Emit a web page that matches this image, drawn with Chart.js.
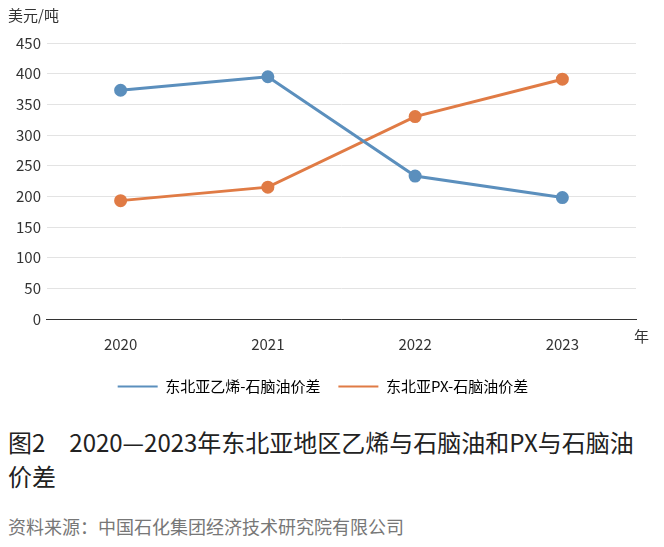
<!DOCTYPE html>
<html><head><meta charset="utf-8">
<script src="https://cdn.jsdelivr.net/npm/chart.js@4"></script>
<style>
body{margin:0;background:#fff;font-family:"Noto Sans CJK SC","Noto Sans",sans-serif;}
#wrap{position:relative;width:664px;height:404px;}
#t{position:absolute;left:8px;top:425px;font-size:24px;line-height:34px;color:#222;width:640px;}
#s{position:absolute;left:8px;top:513px;font-size:18px;color:#777;}
</style></head><body>
<div id="wrap"><canvas id="c"></canvas></div>
<div id="t">图2　2020—2023年东北亚地区乙烯与石脑油和PX与石脑油价差</div>
<div id="s">资料来源：中国石化集团经济技术研究院有限公司</div>
<script>
const years=["2020","2021","2022","2023"];
const ethylene=[373,395,233,198];
const px=[193,215,330,391];
const labels=["东北亚乙烯-石脑油价差","东北亚PX-石脑油价差"];
const font={family:"Noto Sans CJK SC",size:15};
const extra={id:'extra',afterDraw(ch){const c=ch.ctx;c.save();c.font='15px "Noto Sans CJK SC"';c.fillStyle='#333';
c.textBaseline='middle';c.textAlign='left';c.fillText('美元/吨',8,15);
c.fillText('年',634,ch.scales.x.top+17);c.restore();}};
new Chart(document.getElementById('c'),{type:'line',
data:{labels:years,datasets:[
{label:labels[0],data:ethylene,borderColor:'#5b8fbd',backgroundColor:'#5b8fbd',borderWidth:3,pointRadius:5,pointHoverRadius:5},
{label:labels[1],data:px,borderColor:'#e07b45',backgroundColor:'#e07b45',borderWidth:3,pointRadius:5,pointHoverRadius:5}]},
options:{responsive:true,maintainAspectRatio:false,animation:false,
layout:{padding:{top:43,right:28,left:10,bottom:0}},
plugins:{legend:{position:'bottom',labels:{font,color:'#333',boxWidth:40,boxHeight:2,padding:18,
generateLabels(ch){return ch.data.datasets.map((d,i)=>({text:d.label,fillStyle:d.borderColor,strokeStyle:d.borderColor,lineWidth:0,datasetIndex:i,pointStyle:'line'}));}}},tooltip:{enabled:false}},
scales:{x:{offset:true,grid:{display:false,drawTicks:true},border:{color:'#333'},ticks:{font,color:'#333',padding:8}},
y:{min:0,max:450,ticks:{stepSize:50,font,color:'#333',padding:6},grid:{color:'#e3e3e3',drawTicks:false},border:{display:false}}}},
plugins:[extra]});
</script></body></html>
